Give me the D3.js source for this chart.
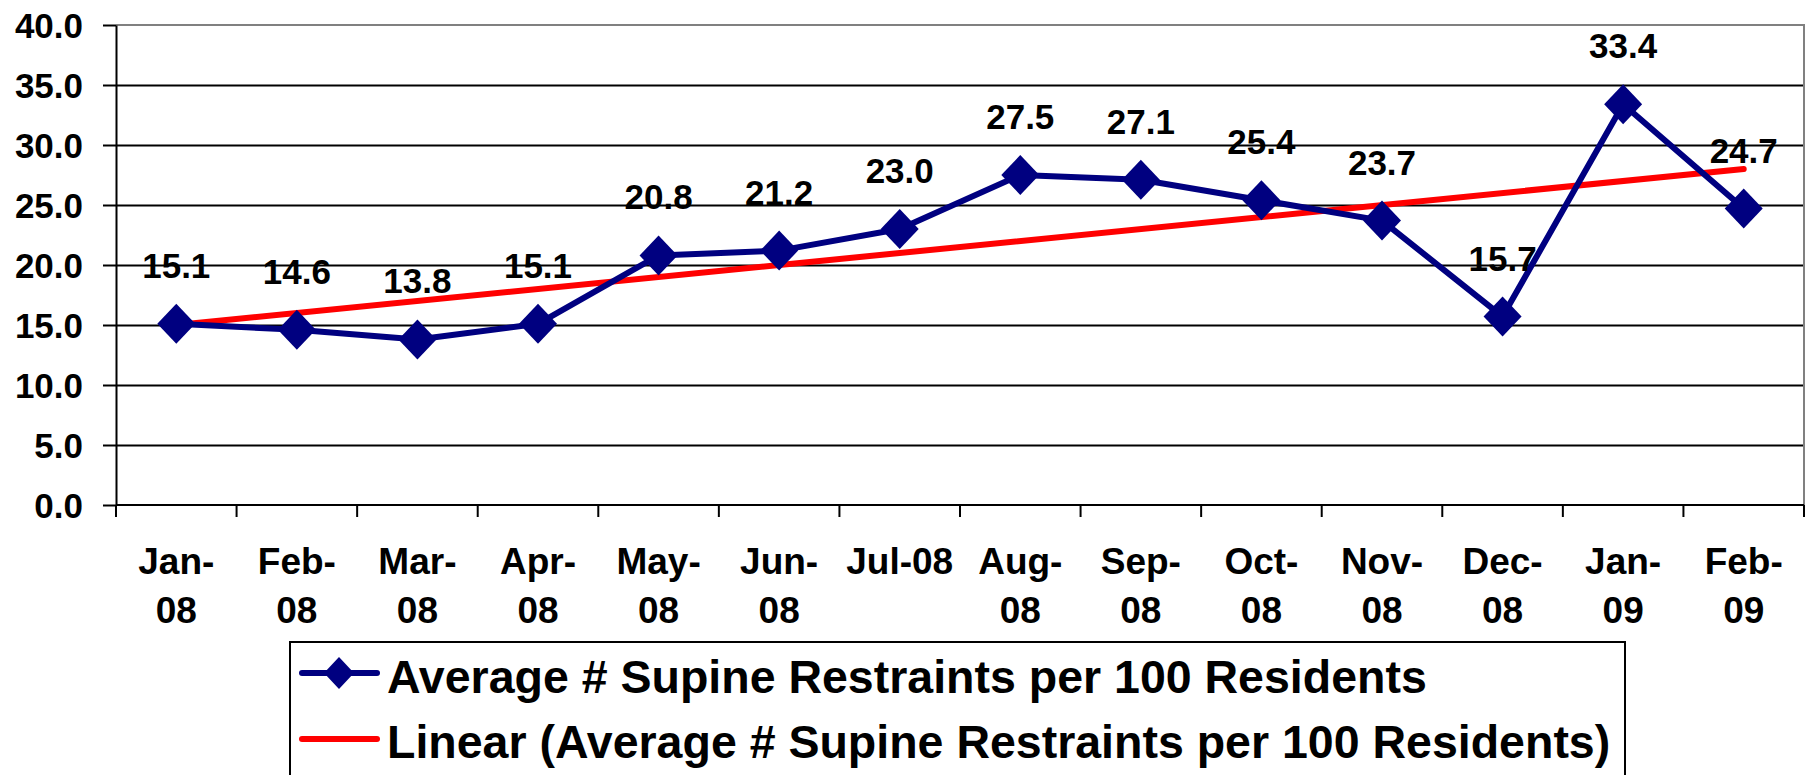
<!DOCTYPE html>
<html>
<head>
<meta charset="utf-8">
<script src="https://cdn.jsdelivr.net/npm/d3@7"></script>
<style>
  body { margin: 0; background: #fff; }
  text { font-family: "Liberation Sans", Arial, sans-serif; font-weight: bold; fill: #000; }
</style>
</head>
<body>
<svg id="chart"></svg>
<script>
// Data
const months = ['Jan-08', 'Feb-08', 'Mar-08', 'Apr-08', 'May-08', 'Jun-08', 'Jul-08',
  'Aug-08', 'Sep-08', 'Oct-08', 'Nov-08', 'Dec-08', 'Jan-09', 'Feb-09'];
const restraints = [15.1, 14.6, 13.8, 15.1, 20.8, 21.2, 23.0, 27.5, 27.1, 25.4, 23.7, 15.7, 33.4, 24.7];
// linear trend at first and last month
const trendMonths = ['Jan-08', 'Feb-09'];
const trendValues = [15.0, 28.0];
const yTicks = [0, 5, 10, 15, 20, 25, 30, 35, 40];
const xTickLines = [['Jan-', '08'], ['Feb-', '08'], ['Mar-', '08'], ['Apr-', '08'], ['May-', '08'],
  ['Jun-', '08'], ['Jul-08'], ['Aug-', '08'], ['Sep-', '08'], ['Oct-', '08'], ['Nov-', '08'],
  ['Dec-', '08'], ['Jan-', '09'], ['Feb-', '09']];
const seriesName = 'Average # Supine Restraints per 100 Residents';
const trendName = 'Linear (Average # Supine Restraints per 100 Residents)';

const width = 1811;
const height = 775;
const margin = { top: 25, right: 7, bottom: 270, left: 116 };

const svg = d3.select('#chart')
  .attr('width', width)
  .attr('height', height);

const x = d3.scaleBand()
  .domain(months)
  .range([margin.left, width - margin.right])
  .padding(0);

const y = d3.scaleLinear()
  .domain([0, 40])
  .range([height - margin.bottom, margin.top]);

const cx = d => x(d) + x.bandwidth() / 2;

// Grid lines
svg.append('g')
  .attr('transform', `translate(${margin.left},0)`)
  .call(d3.axisLeft(y)
    .tickValues(yTicks.filter(t => t > 0 && t < 40))
    .tickSize(-(width - margin.left - margin.right))
    .tickFormat(''))
  .call(g => g.select('.domain').remove())
  .selectAll('line')
  .attr('stroke', '#000')
  .attr('stroke-width', 2);

// Plot border (top + right in grey)
svg.append('path')
  .attr('d', `M${margin.left},${y(40)}H${width - margin.right}V${y(0)}`)
  .attr('fill', 'none')
  .attr('stroke', '#808080')
  .attr('stroke-width', 2);

// Y axis
const yAxis = svg.append('g')
  .attr('transform', `translate(${margin.left},0)`)
  .call(d3.axisLeft(y).tickValues(yTicks).tickSize(13).tickSizeOuter(0).tickPadding(20)
    .tickFormat(d3.format('.1f')));
yAxis.select('.domain').attr('stroke', '#000').attr('stroke-width', 2);
yAxis.selectAll('line').attr('stroke', '#000').attr('stroke-width', 2);
yAxis.selectAll('text')
  .style('font-size', '35px')
  .attr('dy', '0.36em');

// X axis line + ticks at band edges
const xg = svg.append('g');
xg.append('line')
  .attr('x1', margin.left)
  .attr('x2', width - margin.right)
  .attr('y1', y(0))
  .attr('y2', y(0))
  .attr('stroke', '#000')
  .attr('stroke-width', 2);
const edges = months.map(m => x(m)).concat([x.range()[1]]);
xg.selectAll('.xtick')
  .data(edges)
  .enter()
  .append('line')
  .attr('x1', d => d)
  .attr('x2', d => d)
  .attr('y1', y(0))
  .attr('y2', y(0) + 12)
  .attr('stroke', '#000')
  .attr('stroke-width', 2);

const xLabel = xg.selectAll('.xlabel')
  .data(months)
  .enter()
  .append('text')
  .attr('text-anchor', 'middle')
  .style('font-size', '37px');
xLabel.each(function (m, i) {
  const t = d3.select(this);
  xTickLines[i].forEach((line, j) => {
    t.append('tspan')
      .attr('x', cx(m))
      .attr('y', 574 + j * 49)
      .text(line);
  });
});

// Trend line
const trendData = trendMonths.map((m, i) => ({ m, v: trendValues[i] }));
svg.append('path')
  .datum(trendData)
  .attr('fill', 'none')
  .attr('stroke', '#ff0000')
  .attr('stroke-width', 6)
  .attr('stroke-linecap', 'round')
  .attr('d', d3.line().x(d => cx(d.m)).y(d => y(d.v)));

// Series line
const series = months.map((m, i) => ({ m, v: restraints[i] }));
svg.append('path')
  .datum(series)
  .attr('fill', 'none')
  .attr('stroke', '#000080')
  .attr('stroke-width', 6)
  .attr('stroke-linejoin', 'round')
  .attr('d', d3.line().x(d => cx(d.m)).y(d => y(d.v)));

// Diamond markers
const diamond = (s, sy) => `M0,${-sy}L${s},0L0,${sy}L${-s},0Z`;
svg.selectAll('.dot')
  .data(series)
  .enter()
  .append('path')
  .attr('class', 'dot')
  .attr('transform', d => `translate(${cx(d.m)},${y(d.v)})`)
  .attr('d', diamond(19, 20))
  .attr('fill', '#000080');

// Data labels
svg.selectAll('.lbl')
  .data(series)
  .enter()
  .append('text')
  .attr('x', d => cx(d.m))
  .attr('y', d => y(d.v) - 46)
  .attr('text-anchor', 'middle')
  .style('font-size', '35px')
  .text(d => d.v.toFixed(1));

// Legend
const legend = svg.append('g');
legend.append('rect')
  .attr('x', 290)
  .attr('y', 642)
  .attr('width', 1335)
  .attr('height', 160)
  .attr('fill', '#fff')
  .attr('stroke', '#000')
  .attr('stroke-width', 2);

legend.append('line')
  .attr('x1', 302).attr('x2', 377)
  .attr('y1', 673).attr('y2', 673)
  .attr('stroke', '#000080')
  .attr('stroke-width', 6)
  .attr('stroke-linecap', 'round');
legend.append('path')
  .attr('transform', 'translate(339,673)')
  .attr('d', diamond(15, 16))
  .attr('fill', '#000080');
legend.append('text')
  .attr('x', 387)
  .attr('y', 693)
  .style('font-size', '46.5px')
  .text(seriesName);

legend.append('line')
  .attr('x1', 302).attr('x2', 377)
  .attr('y1', 739).attr('y2', 739)
  .attr('stroke', '#ff0000')
  .attr('stroke-width', 6)
  .attr('stroke-linecap', 'round');
legend.append('text')
  .attr('x', 387)
  .attr('y', 758)
  .style('font-size', '46.5px')
  .text(trendName);
</script>
</body>
</html>
